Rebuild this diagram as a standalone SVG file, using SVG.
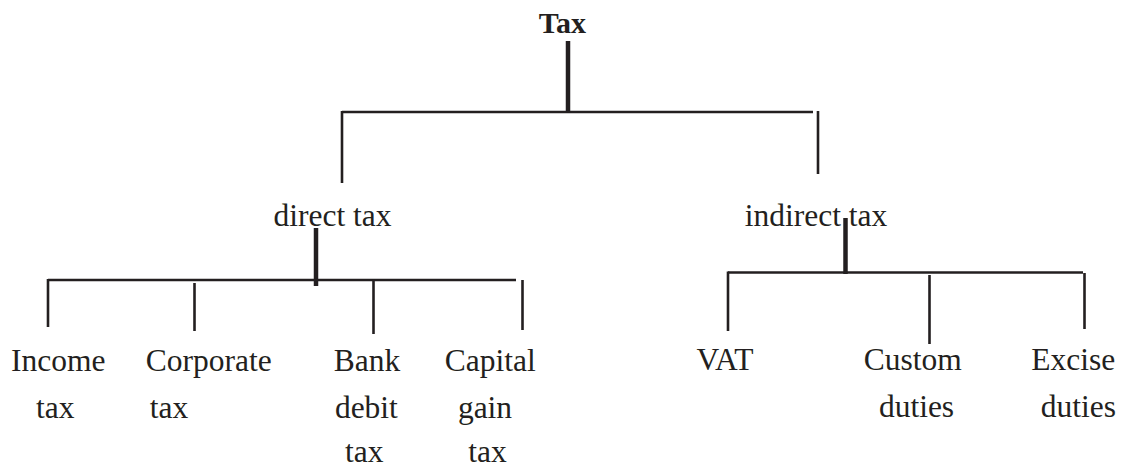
<svg xmlns="http://www.w3.org/2000/svg" width="1122" height="470" viewBox="0 0 1122 470">
  <style>
    .lbl { font-family: "Liberation Serif", "Times New Roman", serif; font-size: 31.5px; fill: #231f20; text-anchor: middle; }
    .root { font-weight: bold; font-size: 30px; }
    .thin { stroke: #231f20; stroke-width: 2.6; fill: none; }
    .trunk { stroke: #231f20; stroke-width: 4.5; fill: none; }
  </style>
  <rect width="1122" height="470" fill="#ffffff"/>

  <!-- connectors -->
  <g id="connectors">
    <!-- Tax to its two branches -->
    <line class="trunk" x1="568" y1="41" x2="568" y2="112"/>
    <line class="thin" x1="342" y1="112" x2="813" y2="112"/>
    <line class="thin" x1="342" y1="111" x2="342" y2="183"/>
    <line class="thin" x1="818" y1="111" x2="818" y2="174"/>

    <!-- direct tax to its children -->
    <line class="trunk" x1="316" y1="228" x2="316" y2="286"/>
    <line class="thin" x1="48" y1="280" x2="516" y2="280"/>
    <line class="thin" x1="48" y1="279" x2="48" y2="327"/>
    <line class="thin" x1="194.5" y1="283" x2="194.5" y2="331"/>
    <line class="thin" x1="373.5" y1="279" x2="373.5" y2="334"/>
    <line class="thin" x1="522.5" y1="280" x2="522.5" y2="330"/>

    <!-- indirect tax to its children -->
    <line class="trunk" x1="845.5" y1="218" x2="845.5" y2="274"/>
    <line class="thin" x1="728" y1="272.5" x2="1083" y2="272.5"/>
    <line class="thin" x1="728" y1="271.5" x2="728" y2="331"/>
    <line class="thin" x1="929.5" y1="275" x2="929.5" y2="344"/>
    <line class="thin" x1="1084.5" y1="273" x2="1084.5" y2="329"/>
  </g>

  <g id="node-tax">
    <text class="lbl root" x="562.5" y="33">Tax</text>
  </g>
  <g id="node-direct">
    <text class="lbl" x="332.5" y="226">direct tax</text>
  </g>
  <g id="node-indirect">
    <text class="lbl" x="816" y="226">indirect tax</text>
  </g>

  <g id="node-income">
    <text class="lbl" x="58.3" y="371">Income</text>
    <text class="lbl" x="55.3" y="418">tax</text>
  </g>
  <g id="node-corporate">
    <text class="lbl" x="208.7" y="371">Corporate</text>
    <text class="lbl" x="169" y="418">tax</text>
  </g>
  <g id="node-bank">
    <text class="lbl" x="367" y="371">Bank</text>
    <text class="lbl" x="366.4" y="418">debit</text>
    <text class="lbl" x="364.2" y="462">tax</text>
  </g>
  <g id="node-capital">
    <text class="lbl" x="490.3" y="371">Capital</text>
    <text class="lbl" x="485" y="418">gain</text>
    <text class="lbl" x="487.5" y="462">tax</text>
  </g>

  <g id="node-vat">
    <text class="lbl" x="725" y="370">VAT</text>
  </g>
  <g id="node-custom">
    <text class="lbl" x="912.8" y="370">Custom</text>
    <text class="lbl" x="916.5" y="417">duties</text>
  </g>
  <g id="node-excise">
    <text class="lbl" x="1073.3" y="370">Excise</text>
    <text class="lbl" x="1078.3" y="417">duties</text>
  </g>
</svg>
